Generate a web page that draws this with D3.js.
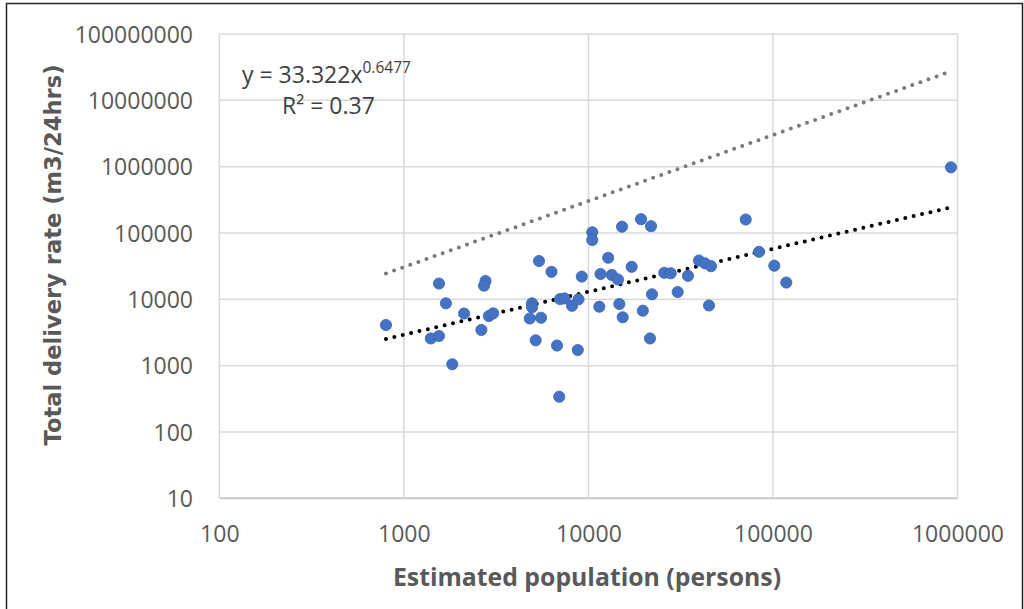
<!DOCTYPE html>
<html>
<head>
<meta charset="utf-8">
<script src="https://cdn.jsdelivr.net/npm/d3@7"></script>
<style>
body { margin: 0; background: #fff; }
</style>
</head>
<body>
<div id="div01"></div>
<script>
// population (persons) vs total delivery rate (m3/24hrs)
var popData = [800, 1550, 1690, 1400, 1550, 1830, 2120, 2770, 2720, 2630, 2890, 3050,
	5400, 6310, 4950, 4950, 4810, 5540, 5180, 6760, 8760, 6950, 9210, 10490, 10490,
	11630, 12800, 7020, 7420, 8150, 8840, 11460, 15210, 19280, 21840, 71200, 17160,
	13390, 14470, 25780, 27930, 34640, 39750, 42830, 46160, 84030, 101700, 118100,
	14710, 15340, 19720, 22110, 30470, 45030, 21570, 922000];
var rateData = [4100, 17300, 8700, 2570, 2800, 1050, 6110, 18900, 16050, 3450, 5600, 6150,
	37800, 26000, 8700, 7580, 5140, 5270, 2410, 2010, 1720, 340, 22000, 102400, 78400,
	24100, 42300, 10100, 10300, 7990, 10000, 7740, 124400, 161400, 126600, 159700, 30900,
	23300, 19900, 25100, 24700, 22600, 38500, 34900, 31600, 52000, 32100, 17900,
	8500, 5360, 6740, 11900, 12900, 8070, 2570, 978000];

var xTicks = [100, 1000, 10000, 100000, 1000000];
var yTicks = [10, 100, 1000, 10000, 100000, 1000000, 10000000, 100000000];

// power trend y = a * x^b (from the chart label)
var trendA = 33.322, trendB = 0.6477, trendR2 = 0.37;
var trendX = [800, 922000];
// grey reference line, end points
var refX = [800, 890000];
var refY = [24500, 26500000];

var W = 1024, H = 609;
var svg, page, x, y;

init();

function init() {
	createSVG('#div01');
	makeScales();
	drawGrid();
	drawLabels();
	drawLines();
	drawPoints();
	drawEquation();
}

function createSVG(locationID) {
	svg = d3.select(locationID)
	.append('svg')
	.attr('width', W)
	.attr('height', H)
	.style('display', 'block');

	svg.append('rect')
	.attr('x', 0).attr('y', 0)
	.attr('width', W).attr('height', H)
	.attr('fill', '#fff');

	// frame of the picture
	svg.append('rect')
	.attr('x', 6.5).attr('y', 3.5)
	.attr('width', W - 8).attr('height', H)
	.attr('fill', 'none')
	.attr('stroke', '#222')
	.attr('stroke-width', 1.5);

	page = svg.append('g').attr('id', 'page');
}

function makeScales() {
	x = d3.scaleLog().domain([100, 1000000]).range([219.3, 957.5]);
	y = d3.scaleLog().domain([10, 100000000]).range([498.3, 34]);
}

function drawGrid() {
	page.selectAll('.hgrid')
	.data(yTicks)
	.enter().append('line')
	.attr('x1', x(100)).attr('x2', x(1000000))
	.attr('y1', function(d) { return y(d); })
	.attr('y2', function(d) { return y(d); })
	.attr('stroke', function(d) { return d == 10 ? '#c8c8c8' : '#d9d9d9'; })
	.attr('stroke-width', function(d) { return d == 10 ? 2 : 1.5; });

	page.selectAll('.vgrid')
	.data(xTicks)
	.enter().append('line')
	.attr('y1', y(10)).attr('y2', y(100000000))
	.attr('x1', function(d) { return x(d); })
	.attr('x2', function(d) { return x(d); })
	.attr('stroke', '#d9d9d9')
	.attr('stroke-width', 1.5);
}

function drawLabels() {
	var axX = d3.axisBottom(x).tickValues(xTicks).tickFormat(d3.format('d')).tickSize(0).tickPadding(0);
	var gx = page.append('g')
	.attr('transform', 'translate(0,' + 542 + ')')
	.call(axX);
	gx.select('.domain').remove();
	gx.selectAll('text')
	.attr('dy', 0)
	.attr('font-family', '"Open Sans", sans-serif')
	.attr('font-size', '23px')
	.attr('fill', '#595959');

	var axY = d3.axisLeft(y).tickValues(yTicks).tickFormat(d3.format('d')).tickSize(0).tickPadding(0);
	var gy = page.append('g')
	.attr('transform', 'translate(' + 193 + ',0)')
	.call(axY);
	gy.select('.domain').remove();
	gy.selectAll('text')
	.attr('dy', '0.35em')
	.attr('font-family', '"Open Sans", sans-serif')
	.attr('font-size', '23px')
	.attr('fill', '#595959');

	page.append('text')
	.attr('x', 587).attr('y', 586)
	.attr('text-anchor', 'middle')
	.attr('font-family', '"Open Sans", sans-serif')
	.attr('font-weight', 'bold')
	.attr('font-size', '24.8px')
	.attr('fill', '#595959')
	.text('Estimated population (persons)');

	page.append('text')
	.attr('transform', 'translate(' + 61 + ',' + 255 + ') rotate(-90)')
	.attr('text-anchor', 'middle')
	.attr('font-family', '"DejaVu Sans", sans-serif')
	.attr('font-weight', 'bold')
	.attr('font-size', '22.6px')
	.attr('fill', '#595959')
	.text('Total delivery rate (m3/24hrs)');
}

function drawLines() {
	var line = d3.line()
	.x(function(d) { return x(d[0]); })
	.y(function(d) { return y(d[1]); });

	var refPts = refX.map(function(d, i) { return [d, refY[i]]; });
	page.append('path')
	.attr('d', line(refPts))
	.attr('fill', 'none')
	.attr('stroke', '#7a7a7a')
	.attr('stroke-width', 4)
	.attr('stroke-linecap', 'round')
	.attr('stroke-dasharray', '0 8.6');

	var trendPts = trendX.map(function(d) { return [d, trendA * Math.pow(d, trendB)]; });
	page.append('path')
	.attr('d', line(trendPts))
	.attr('fill', 'none')
	.attr('stroke', '#000')
	.attr('stroke-width', 4)
	.attr('stroke-linecap', 'round')
	.attr('stroke-dasharray', '0 8.6');
}

function drawPoints() {
	page.selectAll('.circ')
	.data(popData)
	.enter().append('circle')
	.attr('cx', function(d) { return x(d); })
	.attr('cy', function(d, i) { return y(rateData[i]); })
	.attr('r', 5.6)
	.attr('fill', '#4472c4')
	.attr('stroke', '#3a64b0')
	.attr('stroke-width', 0.8);
}

function drawEquation() {
	var eq = page.append('text')
	.attr('x', 242).attr('y', 83)
	.attr('font-family', '"Open Sans", sans-serif')
	.attr('font-size', '23px')
	.attr('fill', '#404040');
	eq.append('tspan').text('y = ' + trendA + 'x');
	eq.append('tspan')
	.attr('dy', -10)
	.attr('font-size', '15.5px')
	.text(trendB);

	page.append('text')
	.attr('x', 282).attr('y', 114)
	.attr('font-family', '"Open Sans", sans-serif')
	.attr('font-size', '23px')
	.attr('fill', '#404040')
	.text('R² = ' + trendR2);
}
</script>
</body>
</html>
